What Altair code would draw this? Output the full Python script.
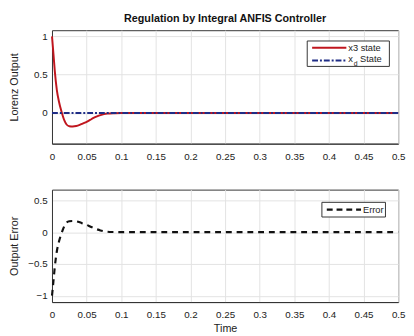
import altair as alt
import pandas as pd

# ---------------- data ----------------
time = [0.0, 0.002, 0.004, 0.007, 0.010, 0.014, 0.018, 0.021, 0.025, 0.030,
        0.035, 0.040, 0.045, 0.050, 0.055, 0.060, 0.065, 0.070, 0.075, 0.080,
        0.090, 0.100, 0.200, 0.300, 0.400, 0.500]
x3_state = [1.0, 0.78, 0.55, 0.30, 0.15, 0.01, -0.10, -0.15, -0.172, -0.176,
            -0.17, -0.155, -0.135, -0.115, -0.09, -0.065, -0.045, -0.028, -0.015, -0.007,
            -0.002, 0.0, 0.0, 0.0, 0.0, 0.0]
xd_state = [0.0, 0.0, 0.0, 0.0, 0.0, 0.0, 0.0, 0.0, 0.0, 0.0,
            0.0, 0.0, 0.0, 0.0, 0.0, 0.0, 0.0, 0.0, 0.0, 0.0,
            0.0, 0.0, 0.0, 0.0, 0.0, 0.0]
error = [-1.0, -0.78, -0.55, -0.30, -0.15, -0.01, 0.10, 0.15, 0.172, 0.176,
         0.17, 0.155, 0.135, 0.115, 0.09, 0.065, 0.045, 0.028, 0.015, 0.007,
         0.002, 0.0, 0.0, 0.0, 0.0, 0.0]

x_ticks = [0, 0.05, 0.1, 0.15, 0.2, 0.25, 0.3, 0.35, 0.4, 0.45, 0.5]
top_y_ticks = [0, 0.5, 1]
bottom_y_ticks = [-1, -0.5, 0, 0.5]
top_y_domain = [-0.4, 1.08]
bottom_y_domain = [-1.1, 0.67]

title_text = "Regulation by Integral ANFIS Controller"
top_y_title = "Lorenz Output"
bottom_y_title = "Output Error"
x_title = "Time"
legend_x3 = "x3 state"
legend_xd_main = "x"
legend_xd_sub = "d"
legend_xd_rest = "State"
legend_err = "Error"

# ---------------- build ----------------
df = pd.DataFrame({"t": time, "x3": x3_state, "xd": xd_state, "err": error})
one = pd.DataFrame({"k": [0]})

FONT = "Liberation Sans"
RED = "#c0161e"
BLUE = "#1f2d86"
W = 354


def x_enc(title=None):
    return alt.X(
        "t:Q",
        scale=alt.Scale(domain=[0, 0.5], nice=False),
        axis=alt.Axis(values=x_ticks, format=".2~f", title=title,
                      labelPadding=8, titlePadding=3,
                      labelOverlap=False, labelFlush=False),
    )


def y_enc(field, domain, title, values):
    return alt.Y(
        field,
        scale=alt.Scale(domain=domain, nice=False),
        axis=alt.Axis(values=values, format="~g", title=title,
                      minExtent=22, maxExtent=22, titlePadding=11,
                      labelOverlap=False, labelFlush=False, labelPadding=5),
    )


top_x3 = alt.Chart(df).mark_line(color=RED, strokeWidth=2, interpolate="monotone").encode(
    x=x_enc(),
    y=y_enc("x3:Q", top_y_domain, top_y_title, top_y_ticks),
)
top_xd = alt.Chart(df).mark_line(color=BLUE, strokeWidth=2, strokeDash=[6, 2, 2, 2]).encode(
    x=x_enc(),
    y=y_enc("xd:Q", top_y_domain, top_y_title, top_y_ticks),
)

# legend (top)
TXT = dict(align="left", baseline="middle", font=FONT, color="#222")
lg_box = alt.Chart(one).mark_rect(fill="white", stroke="#333", strokeWidth=1).encode(
    x=alt.value(261), x2=alt.value(345), y=alt.value(11), y2=alt.value(37))
lg_l1 = alt.Chart(one).mark_rule(color=RED, strokeWidth=2).encode(
    x=alt.value(266), x2=alt.value(301), y=alt.value(18))
lg_l2 = alt.Chart(one).mark_rule(color=BLUE, strokeWidth=2, strokeDash=[6, 2, 2, 2]).encode(
    x=alt.value(266), x2=alt.value(301), y=alt.value(31))
lg_t1 = alt.Chart(one).mark_text(fontSize=9.5, **TXT).encode(
    x=alt.value(303), y=alt.value(18), text=alt.value(legend_x3))
lg_t2a = alt.Chart(one).mark_text(fontSize=9.5, **TXT).encode(
    x=alt.value(303), y=alt.value(30), text=alt.value(legend_xd_main))
lg_t2b = alt.Chart(one).mark_text(fontSize=7, **TXT).encode(
    x=alt.value(308.5), y=alt.value(34.5), text=alt.value(legend_xd_sub))
lg_t2c = alt.Chart(one).mark_text(fontSize=9.5, **TXT).encode(
    x=alt.value(315), y=alt.value(30), text=alt.value(legend_xd_rest))

top = alt.layer(top_x3, top_xd, lg_box, lg_l1, lg_l2, lg_t1, lg_t2a, lg_t2b, lg_t2c).properties(
    width=W, height=116,
    title=alt.TitleParams(title_text, font=FONT, fontSize=11, fontWeight="bold",
                          color="#111", offset=6, anchor="middle"),
)

bot_err = alt.Chart(df).mark_line(color="#111", strokeWidth=2.2, strokeDash=[6, 5],
                                  interpolate="monotone").encode(
    x=x_enc(x_title),
    y=y_enc("err:Q", bottom_y_domain, bottom_y_title, bottom_y_ticks),
)
lb_box = alt.Chart(one).mark_rect(fill="white", stroke="#333", strokeWidth=1).encode(
    x=alt.value(276), x2=alt.value(341), y=alt.value(13), y2=alt.value(28))
lb_l = alt.Chart(one).mark_rule(color="#111", strokeWidth=2.2, strokeDash=[6, 4]).encode(
    x=alt.value(281), x2=alt.value(316), y=alt.value(20.5))
lb_t = alt.Chart(one).mark_text(fontSize=9.5, **TXT).encode(
    x=alt.value(318), y=alt.value(20.5), text=alt.value(legend_err))

bottom = alt.layer(bot_err, lb_box, lb_l, lb_t).properties(width=W, height=115)

chart = alt.vconcat(top, bottom, spacing=27).properties(
    padding={"left": 0, "top": 1, "right": 0, "bottom": 0}
).configure_view(
    stroke="#333", strokeWidth=1
).configure_axis(
    labelFont=FONT, titleFont=FONT, labelFontSize=10, titleFontSize=11,
    labelColor="#222", titleColor="#222", titleFontWeight="normal",
    gridColor="#e2e2e2", gridWidth=1, domainColor="#333", ticks=False,
)

chart.save("out.html", embed_options={"renderer": "svg", "actions": False})
